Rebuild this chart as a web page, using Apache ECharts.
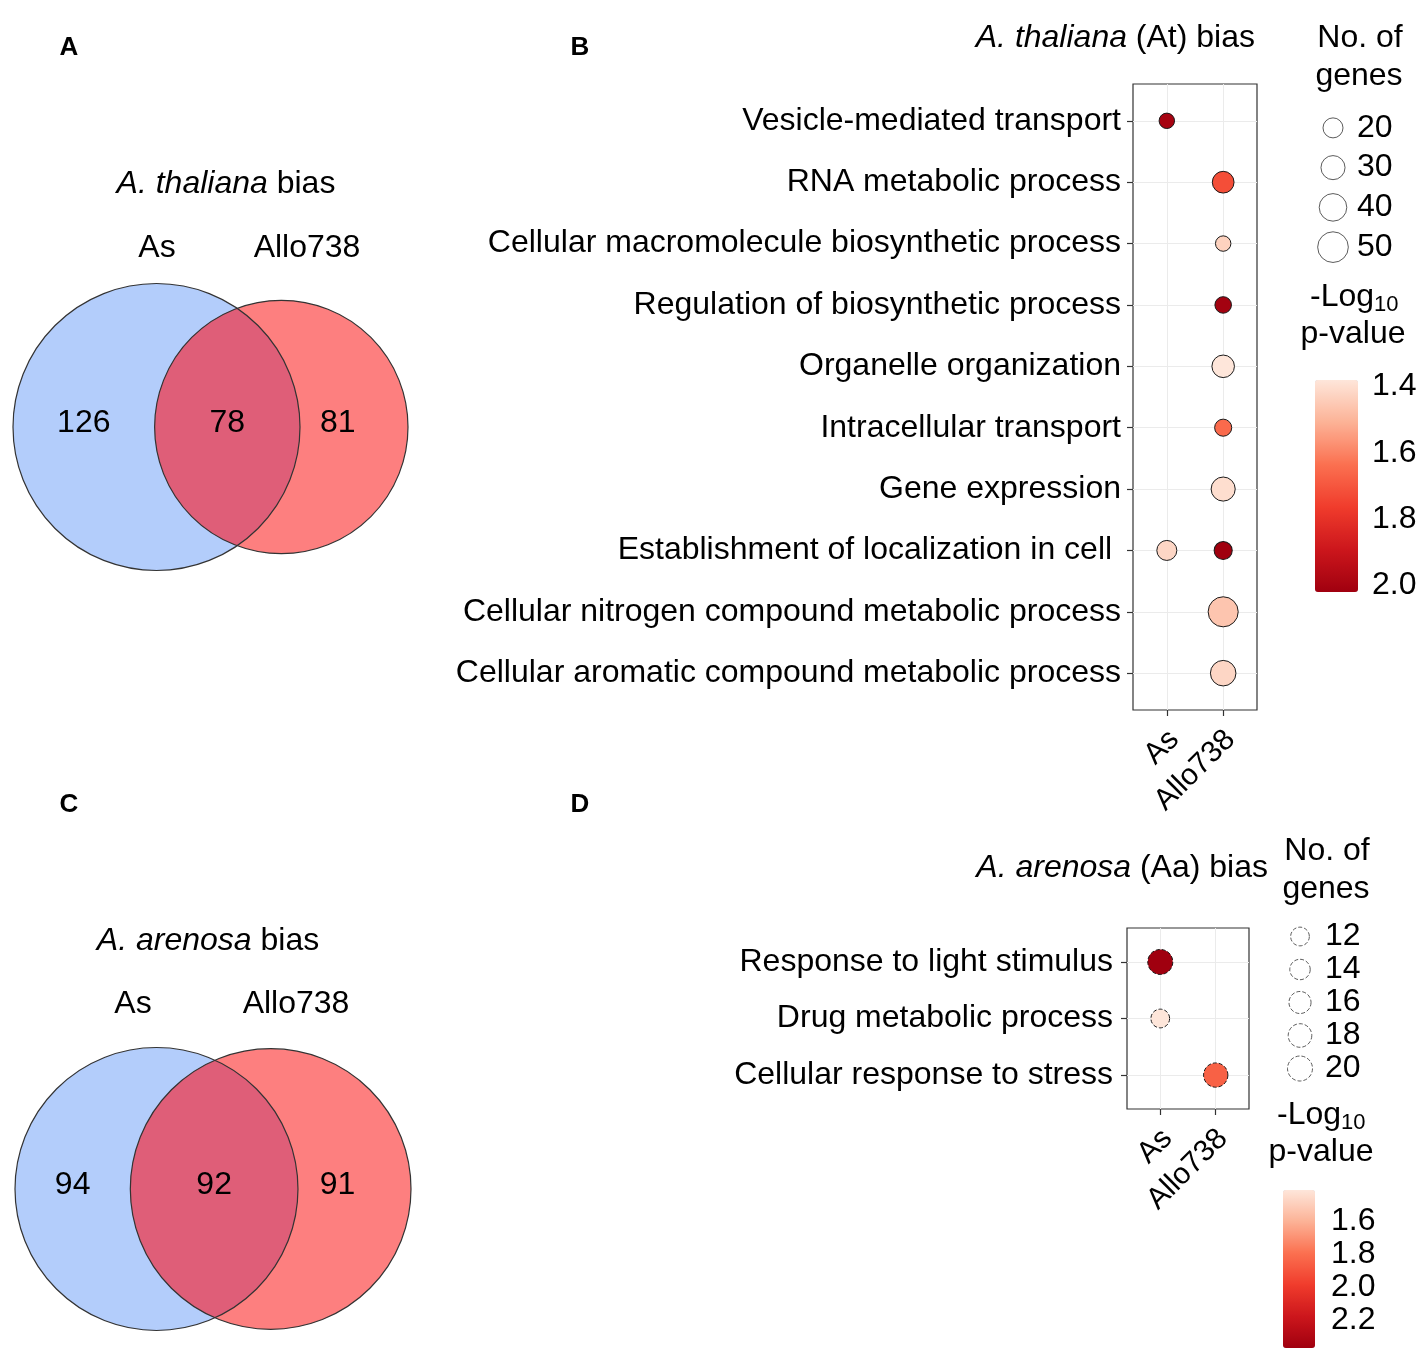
<!DOCTYPE html>
<html><head><meta charset="utf-8">
<script src="https://cdn.jsdelivr.net/npm/echarts@6/dist/echarts.min.js"></script>
<style>html,body{margin:0;padding:0;background:#fff}#c{width:1417px;height:1357px}</style>
</head><body><div id="c"></div>
<script>
// ---------------- DATA ----------------
const vennSetNames = ['As', 'Allo738'];
// [only As, shared, only Allo738]
const vennAtCounts = [126, 78, 81];
const vennAaCounts = [94, 92, 91];

const groups = ['As', 'Allo738'];

const atTerms = [
  'Vesicle-mediated transport',
  'RNA metabolic process',
  'Cellular macromolecule biosynthetic process',
  'Regulation of biosynthetic process',
  'Organelle organization',
  'Intracellular transport',
  'Gene expression',
  'Establishment of localization in cell ',
  'Cellular nitrogen compound metabolic process',
  'Cellular aromatic compound metabolic process'
];
const atGroup = [0, 1, 1, 1, 1, 1, 1, 0, 1, 1, 1];
const atTerm  = [0, 1, 2, 3, 4, 5, 6, 7, 7, 8, 9];
const atGenes = [11, 24, 11, 13, 26, 14, 30, 20, 16, 48, 34];
const atLogP  = [2.00, 1.72, 1.43, 2.01, 1.38, 1.65, 1.40, 1.42, 2.02, 1.46, 1.42];
const atSizeBreaks = [20, 30, 40, 50];
const atColorTicks = [1.4, 1.6, 1.8, 2.0];
const atColorRange = [1.38, 2.02];

const aaTerms = ['Response to light stimulus', 'Drug metabolic process', 'Cellular response to stress'];
const aaGroup = [0, 0, 1];
const aaTerm  = [0, 1, 2];
const aaGenes = [20, 12, 19];
const aaLogP  = [2.37, 1.41, 1.85];
const aaSizeBreaks = [12, 14, 16, 18, 20];
const aaColorTicks = [1.6, 1.8, 2.0, 2.2];
const aaColorRange = [1.41, 2.37];

// ---------------- HELPERS ----------------
const FONT = "'Liberation Sans', Arial, Helvetica, sans-serif";
const FS = 32;
const REDS = ['#fee6da', '#fcb296', '#fb7050', '#f03c2c', '#cc161c', '#a0000f'];
const BLUE = '#b3cdfb', RED = '#fd7f7f', OVER = '#df5e78';

function lensArea(r1, r2, d) {
  if (d >= r1 + r2) return 0;
  if (d <= Math.abs(r1 - r2)) return Math.PI * Math.min(r1, r2) ** 2;
  const a1 = r1 * r1 * Math.acos((d * d + r1 * r1 - r2 * r2) / (2 * d * r1));
  const a2 = r2 * r2 * Math.acos((d * d + r2 * r2 - r1 * r1) / (2 * d * r2));
  const k = 0.5 * Math.sqrt((-d + r1 + r2) * (d + r1 - r2) * (d - r1 + r2) * (d + r1 + r2));
  return a1 + a2 - k;
}
function vennGeometry(c) {
  const rA = Math.sqrt((c[0] + c[1]) / Math.PI);
  const rB = Math.sqrt((c[1] + c[2]) / Math.PI);
  let lo = Math.abs(rA - rB) + 1e-9, hi = rA + rB;
  for (let i = 0; i < 80; i++) {
    const m = (lo + hi) / 2;
    if (lensArea(rA, rB, m) > c[1]) lo = m; else hi = m;
  }
  const d = (lo + hi) / 2;
  return {
    rA, rB, d,
    min: -rA, max: d + rB,
    item: [0, d, rA, rB, c[0], c[1], c[2],
      (-rA + (d - rB)) / 2, ((d - rB) + rA) / 2, 0.65 * rA + 0.35 * (d + rB)]
  };
}
const gAt = vennGeometry(vennAtCounts);
const gAa = vennGeometry(vennAaCounts);

function vennRender(params, api) {
  const pA = api.coord([api.value(0), 0]);
  const pB = api.coord([api.value(1), 0]);
  const sA = api.size([api.value(2), 0])[0];
  const sB = api.size([api.value(3), 0])[0];
  const cy = pA[1];
  const d = pB[0] - pA[0];
  const x = (d * d - sB * sB + sA * sA) / (2 * d);
  const h = Math.sqrt(Math.max(0, sA * sA - x * x));
  const ix = pA[0] + x;
  const largeB = x > d ? 1 : 0, largeA = x < 0 ? 1 : 0;
  const path = 'M' + ix + ',' + (cy - h) + ' A' + sB + ',' + sB + ' 0 ' + largeB + ' 0 ' + ix + ',' + (cy + h) +
    ' A' + sA + ',' + sA + ' 0 ' + largeA + ' 0 ' + ix + ',' + (cy - h) + ' Z';
  const lbl = (vx, txt) => ({
    type: 'text', x: api.coord([vx, 0])[0], y: cy - 4,
    style: { text: String(txt), fontSize: FS, fontFamily: FONT, fill: '#000', align: 'center', verticalAlign: 'middle' }
  });
  return {
    type: 'group', children: [
      { type: 'circle', shape: { cx: pA[0], cy: cy, r: sA }, style: { fill: BLUE } },
      { type: 'circle', shape: { cx: pB[0], cy: cy, r: sB }, style: { fill: RED } },
      { type: 'path', shape: { pathData: path }, style: { fill: OVER } },
      { type: 'circle', shape: { cx: pA[0], cy: cy, r: sA }, style: { fill: 'none', stroke: '#333', lineWidth: 1.2 } },
      { type: 'circle', shape: { cx: pB[0], cy: cy, r: sB }, style: { fill: 'none', stroke: '#333', lineWidth: 1.2 } },
      lbl(api.value(7), api.value(4)),
      lbl(api.value(8), api.value(5)),
      lbl(api.value(9), api.value(6))
    ]
  };
}

const sizeAt = v => Math.sqrt(40 + 18 * v);
const sizeAa = v => Math.sqrt(-63 + 34.4 * v);

function txt(x, y, text, opt) {
  opt = opt || {};
  const size = opt.size || FS;
  return {
    type: 'text', x: x, y: y, silent: true,
    style: {
      text: text, fontSize: size, fontFamily: FONT, fill: '#000',
      fontWeight: opt.weight || 'normal',
      align: opt.align || 'center', verticalAlign: 'middle',
      rich: {
        i: { fontStyle: 'italic', fontSize: size, fontFamily: FONT, fill: '#000' },
        n: { fontSize: size, fontFamily: FONT, fill: '#000' }
      }
    }
  };
}

const hiddenAxis = (gi, min, max) => ({
  type: 'value', gridIndex: gi, min: min, max: max, show: false,
  splitLine: { show: false }, axisLine: { show: false, onZero: false }, axisTick: { show: false }, axisLabel: { show: false }
});

const atIdx = atTerms.map((_, i) => i);
const aaIdx = aaTerms.map((_, i) => i);

function dotX(gi) {
  return {
    type: 'value', gridIndex: gi, min: -0.6, max: 1.6, position: 'bottom',
    axisLine: { show: false, onZero: false },
    axisTick: { show: true, customValues: [0, 1], length: 6, lineStyle: { color: '#333', width: 1.2 } },
    axisLabel: { show: false, customValues: [0, 1] },
    splitLine: { show: true, lineStyle: { color: '#ebebeb', width: 1 } }
  };
}
// label-only axis, shifted so rotated labels hang just right of the ticks (like hjust = 1)
function dotXLabels(gi, shift) {
  return {
    type: 'value', gridIndex: gi, min: -0.6 - shift, max: 1.6 - shift, position: 'bottom',
    axisLine: { show: false, onZero: false }, axisTick: { show: false }, splitLine: { show: false },
    axisLabel: { customValues: [0, 1], formatter: v => groups[Math.round(v)], rotate: 45, margin: 25,
      fontSize: 30, fontFamily: FONT, color: '#000' }
  };
}
function dotY(gi, terms, idx, margin) {
  return {
    type: 'value', gridIndex: gi, min: -0.6, max: terms.length - 0.4, inverse: true, position: 'left',
    axisLine: { show: false, onZero: false },
    axisTick: { show: true, customValues: idx, length: 6, lineStyle: { color: '#333', width: 1.2 } },
    axisLabel: { customValues: idx, formatter: v => terms[Math.round(v)], margin: margin,
      fontSize: FS, fontFamily: FONT, color: '#000' },
    splitLine: { show: true, lineStyle: { color: '#ebebeb', width: 1 } }
  };
}
function legendY(gi, breaks, margin) {
  return {
    type: 'category', gridIndex: gi, data: breaks.map(String), inverse: true, position: 'right',
    axisLine: { show: false, onZero: false }, axisTick: { show: false }, splitLine: { show: false },
    axisLabel: { interval: 0, margin: margin, fontSize: FS, fontFamily: FONT, color: '#000' }
  };
}
function barY(gi, range, ticks, pos, showLabel, margin) {
  return {
    type: 'value', gridIndex: gi, min: range[0], max: range[1], inverse: true, position: pos,
    axisLine: { show: false, onZero: false }, splitLine: { show: false },
    axisTick: { show: true, inside: true, length: 6, customValues: ticks, lineStyle: { color: '#fff', width: 1.5 } },
    axisLabel: { show: showLabel, customValues: ticks, formatter: v => v.toFixed(1), margin: margin,
      fontSize: FS, fontFamily: FONT, color: '#000' }
  };
}

const G = (o) => Object.assign({ outerBoundsMode: 'none', containLabel: false }, o);

const option = {
  animation: false,
  backgroundColor: '#fff',
  grid: [
    G({ left: 13, top: 283, width: 395, height: 288 }),           // 0 venn At
    G({ left: 15, top: 1045, width: 396, height: 288 }),          // 1 venn Aa
    G({ left: 1133, top: 84, width: 124, height: 626, show: true, borderColor: '#333', borderWidth: 1.2 }), // 2 dots At
    G({ left: 1323, top: 108, width: 20, height: 159 }),          // 3 size legend At
    G({ left: 1127, top: 928, width: 122, height: 181, show: true, borderColor: '#333', borderWidth: 1.2 }), // 4 dots Aa
    G({ left: 1290, top: 920, width: 20, height: 165 }),          // 5 size legend Aa
    G({ left: 1315, top: 380, width: 43, height: 212 }),          // 6 colorbar At
    G({ left: 1283, top: 1190, width: 32, height: 158 })          // 7 colorbar Aa
  ],
  xAxis: [
    hiddenAxis(0, gAt.min, gAt.max),
    hiddenAxis(1, gAa.min, gAa.max),
    dotX(2),
    hiddenAxis(3, -1, 1),
    dotX(4),
    hiddenAxis(5, -1, 1),
    hiddenAxis(6, 0, 1),
    hiddenAxis(7, 0, 1),
    dotXLabels(2, 0.13),
    dotXLabels(4, 0.13)
  ],
  yAxis: [
    hiddenAxis(0, -1, 1),
    hiddenAxis(1, -1, 1),
    dotY(2, atTerms, atIdx, 12),
    legendY(3, atSizeBreaks, 14),
    dotY(4, aaTerms, aaIdx, 14),
    legendY(5, aaSizeBreaks, 15),
    barY(6, atColorRange, atColorTicks, 'right', true, 14),
    barY(7, aaColorRange, aaColorTicks, 'right', true, 16),
    barY(6, atColorRange, atColorTicks, 'left', false, 0),
    barY(7, aaColorRange, aaColorTicks, 'left', false, 0)
  ],
  visualMap: [
    { type: 'continuous', seriesIndex: 2, dimension: 3, min: atColorRange[0], max: atColorRange[1],
      inverse: true, calculable: false, hoverLink: false, left: 1315, top: 380, itemWidth: 43, itemHeight: 212,
      padding: 0, text: null, inRange: { color: REDS } },
    { type: 'continuous', seriesIndex: 4, dimension: 3, min: aaColorRange[0], max: aaColorRange[1],
      inverse: true, calculable: false, hoverLink: false, left: 1283, top: 1190, itemWidth: 32, itemHeight: 158,
      padding: 0, text: null, inRange: { color: REDS } }
  ],
  series: [
    { type: 'custom', xAxisIndex: 0, yAxisIndex: 0, renderItem: vennRender, data: [gAt.item], silent: true },
    { type: 'custom', xAxisIndex: 1, yAxisIndex: 1, renderItem: vennRender, data: [gAa.item], silent: true },
    { type: 'scatter', xAxisIndex: 2, yAxisIndex: 2,
      data: atGroup.map((g, i) => [g, atTerm[i], atGenes[i], atLogP[i]]),
      symbolSize: val => sizeAt(val[2]),
      itemStyle: { borderColor: '#1a1a1a', borderWidth: 1, opacity: 1 } },
    { type: 'scatter', xAxisIndex: 3, yAxisIndex: 3,
      data: atSizeBreaks.map((v, i) => [0, i, v]),
      symbolSize: val => sizeAt(val[2]),
      itemStyle: { color: '#fff', borderColor: '#333', borderWidth: 1 } },
    { type: 'scatter', xAxisIndex: 4, yAxisIndex: 4,
      data: aaGroup.map((g, i) => [g, aaTerm[i], aaGenes[i], aaLogP[i]]),
      symbolSize: val => sizeAa(val[2]),
      itemStyle: { borderColor: '#1a1a1a', borderWidth: 1, borderType: 'dashed', opacity: 1 } },
    { type: 'scatter', xAxisIndex: 5, yAxisIndex: 5,
      data: aaSizeBreaks.map((v, i) => [0, i, v]),
      symbolSize: val => sizeAa(val[2]),
      itemStyle: { color: '#fff', borderColor: '#333', borderWidth: 1, borderType: 'dashed' } }
  ],
  graphic: [
    txt(69, 48, 'A', { weight: 'bold', size: 26 }),
    txt(580, 48, 'B', { weight: 'bold', size: 26 }),
    txt(69, 805, 'C', { weight: 'bold', size: 26 }),
    txt(580, 805, 'D', { weight: 'bold', size: 26 }),
    txt(226, 184, '{i|A. thaliana} {n|bias}'),
    txt(157, 248, vennSetNames[0]),
    txt(307, 248, vennSetNames[1]),
    txt(208, 941, '{i|A. arenosa} {n|bias}'),
    txt(133, 1004, vennSetNames[0]),
    txt(296, 1004, vennSetNames[1]),
    txt(1255, 38, '{i|A. thaliana} {n|(At) bias}', { align: 'right' }),
    txt(1268, 868, '{i|A. arenosa} {n|(Aa) bias}', { align: 'right' }),
    txt(1360, 38, 'No. of'),
    txt(1359, 76, 'genes'),
    txt(1310, 297, '-Log', { align: 'left' }),
    txt(1374, 305, '10', { align: 'left', size: 22 }),
    txt(1353, 334, 'p-value'),
    txt(1327, 851, 'No. of'),
    txt(1326, 889, 'genes'),
    txt(1277, 1115, '-Log', { align: 'left' }),
    txt(1341, 1123, '10', { align: 'left', size: 22 }),
    txt(1321, 1152, 'p-value')
  ]
};

const chart = echarts.init(document.getElementById('c'), null, { renderer: 'canvas' });
chart.setOption(option);
</script></body></html>
